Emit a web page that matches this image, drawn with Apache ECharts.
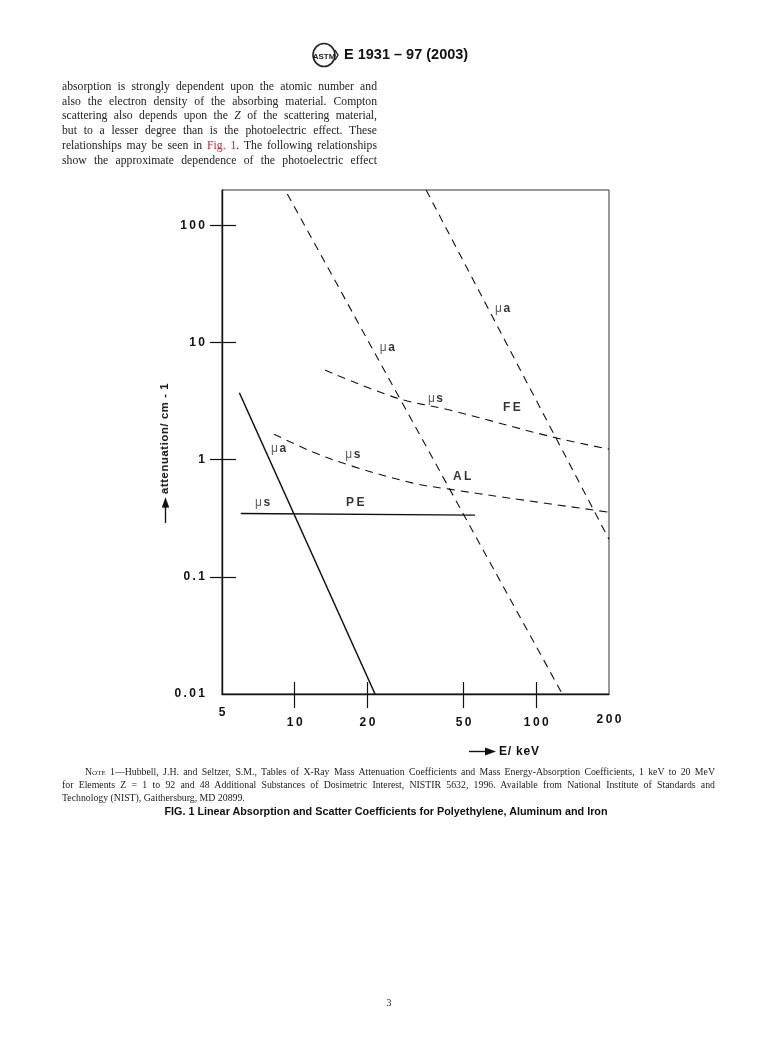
<!DOCTYPE html>
<html>
<head>
<meta charset="utf-8">
<script src="https://cdn.jsdelivr.net/npm/echarts@6/dist/echarts.min.js"></script>
<style>
html,body{margin:0;padding:0;background:#fff;width:778px;height:1041px;overflow:hidden;}
#chart{position:absolute;left:0;top:0;width:778px;height:1041px;}
.t{position:absolute;white-space:nowrap;color:#222;z-index:2;}
.serif{font-family:"Liberation Serif","Times New Roman",serif;}
.sans{font-family:"Liberation Sans",Arial,sans-serif;}
.jl{display:block;text-align:justify;text-align-last:justify;white-space:normal;}
</style>
</head>
<body>
<div id="chart"></div>

<!-- header -->
<div class="t" style="left:311px;top:42px;">
  <svg width="28" height="26" viewBox="0 0 28 26">
    <ellipse cx="13" cy="13" rx="11" ry="11.5" fill="none" stroke="#222" stroke-width="1.6"/>
    <text x="13" y="16.5" font-family="Liberation Sans" font-weight="bold" font-size="8" text-anchor="middle" fill="#222">ASTM</text>
    <path d="M24 8 L27 13 L24 18" fill="none" stroke="#222" stroke-width="1.4"/>
  </svg>
</div>
<div class="t sans" style="left:344px;top:46px;font-size:14.5px;font-weight:bold;color:#111;">E 1931 – 97 (2003)</div>

<!-- paragraph -->
<div class="t serif" style="left:62px;top:80px;width:315px;font-size:11.7px;line-height:14.7px;white-space:normal;">
  <span class="jl">absorption is strongly dependent upon the atomic number and</span>
  <span class="jl">also the electron density of the absorbing material. Compton</span>
  <span class="jl">scattering also depends upon the <i>Z</i> of the scattering material,</span>
  <span class="jl">but to a lesser degree than is the photoelectric effect. These</span>
  <span class="jl">relationships may be seen in <span style="color:#d2232a">Fig. 1</span>. The following relationships</span>
  <span class="jl">show the approximate dependence of the photoelectric effect</span>
</div>

<!-- axis names -->
<div class="t sans" style="left:164px;top:453px;transform:translate(-50%,-50%) rotate(-90deg);font-size:11.3px;font-weight:bold;letter-spacing:0.6px;color:#111;">
  <svg width="26" height="9" viewBox="0 0 27 9" style="vertical-align:middle;margin-right:3px;"><line x1="0" y1="4.5" x2="18" y2="4.5" stroke="#111" stroke-width="1.4"/><path d="M16 0.5 L27 4.5 L16 8.5 Z" fill="#111"/></svg>attenuation/ cm - 1
</div>
<div class="t sans" style="left:469px;top:744px;font-size:12px;font-weight:bold;letter-spacing:0.8px;color:#111;">
  <svg width="27" height="9" viewBox="0 0 27 9" style="vertical-align:middle;margin-right:3px;"><line x1="0" y1="4.5" x2="18" y2="4.5" stroke="#111" stroke-width="1.4"/><path d="M16 0.5 L27 4.5 L16 8.5 Z" fill="#111"/></svg>E/ keV
</div>

<!-- note and caption -->
<div class="t serif" style="left:85px;top:765px;width:630px;font-size:9.8px;line-height:13px;white-space:normal;">
  <span class="jl"><span style="font-variant:small-caps">Note</span> 1—Hubbell, J.H. and Seltzer, S.M., Tables of X-Ray Mass Attenuation Coefficients and Mass Energy-Absorption Coefficients, 1 keV to 20 MeV</span>
</div>
<div class="t serif" style="left:62px;top:778px;width:653px;font-size:9.8px;line-height:13px;white-space:normal;">
  <span class="jl">for Elements Z = 1 to 92 and 48 Additional Substances of Dosimetric Interest, NISTIR 5632, 1996. Available from National Institute of Standards and</span>
</div>
<div class="t serif" style="left:62px;top:791px;font-size:9.8px;line-height:13px;">Technology (NIST), Gaithersburg, MD 20899.</div>
<div class="t sans" style="left:386px;top:805px;transform:translateX(-50%);font-size:10.8px;font-weight:bold;color:#111;">FIG. 1 Linear Absorption and Scatter Coefficients for Polyethylene, Aluminum and Iron</div>

<div class="t serif" style="left:389px;top:997px;transform:translateX(-50%);font-size:10px;">3</div>

<script>
// ---- tick values ----
const xTickValues = [5, 10, 20, 50, 100, 200];
const xTickMarks = [10, 20, 50, 100];
const yTickValues = [0.01, 0.1, 1, 10, 100];
const yTickMarks = [0.1, 1, 10, 100];

// ---- data: photon energy E (keV) and attenuation (cm^-1) ----
// Polyethylene (PE)
const peAbsE = [5.90, 21.5];
const peAbsMu = [3.72, 0.01];
const peScatE = [5.98, 55.8];
const peScatMu = [0.347, 0.336];
// Aluminium (AL)
const alAbsE = [9.32, 128.2];
const alAbsMu = [185, 0.01];
const alScatE = [8.21, 11.9, 17.3, 30.9, 43.5, 77.9, 200];
const alScatMu = [1.65, 1.16, 0.88, 0.63, 0.56, 0.469, 0.356];
// Iron (FE)
const feAbsE = [35.0, 200];
const feAbsMu = [200, 0.209];
const feScatE = [13.35, 26.5, 43.9, 117.3, 200];
const feScatMu = [5.81, 3.35, 2.65, 1.556, 1.229];

// ---- annotations ----
const labelText = ['μa', 'μa', 'μs', 'FE', 'μs', 'μa', 'AL', 'μs', 'PE'];
const labelE = [67.5, 22.5, 35.6, 72.8, 16.2, 7.98, 45.2, 6.85, 16.3];
const labelMu = [19.3, 8.95, 3.29, 2.75, 1.11, 1.25, 0.722, 0.425, 0.425];

const zip = (xs, ys) => xs.map((x, i) => [x, ys[i]]);
const INK = '#111';
const FONT = '"Liberation Sans", Arial, sans-serif';
const spaced = s => s.split('').join('\u2009');
const nearest = (arr, v) => arr.reduce((b, t) => Math.abs(Math.log10(t) - Math.log10(v)) < Math.abs(Math.log10(b) - Math.log10(v)) ? t : b, arr[0]);

const chart = echarts.init(document.getElementById('chart'));

const lineSeries = (data, dashed, width, smooth) => ({
  type: 'line', data, showSymbol: false, symbol: 'none', smooth: smooth || false,
  silent: true, clip: true,
  lineStyle: { color: INK, width: width, type: dashed ? [8, 6] : 'solid' }
});

const axisFontStyle = { fontFamily: FONT, fontWeight: 'bold', fontSize: 12, color: INK };

chart.setOption({
  animation: false,
  backgroundColor: 'transparent',
  grid: { left: 222, right: 169, top: 190, bottom: 347, show: true, borderColor: '#333', borderWidth: 1, backgroundColor: 'transparent' },
  xAxis: [
    {
      type: 'log', logBase: 10, min: 5, max: 200, position: 'bottom',
      axisLine: { show: true, onZero: false, lineStyle: { color: INK, width: 1.4 } },
      axisTick: { show: true, inside: true, length: 12, customValues: xTickMarks, lineStyle: { color: INK, width: 1.2 } },
      minorTick: { show: false }, splitLine: { show: false },
      axisLabel: {
        show: true, customValues: xTickValues, margin: 35, verticalAlign: 'bottom',
        formatter: v => {
          const t = nearest(xTickValues, v);
          const s = spaced(String(t));
          if (t === 5) return '{up|' + s + '}';
          if (t === 200) return '{up3|' + s + '}';
          return '{n|' + s + '}';
        },
        rich: {
          n: Object.assign({}, axisFontStyle),
          up: Object.assign({ padding: [0, 0, 10, 0] }, axisFontStyle),
          up3: Object.assign({ padding: [0, 0, 3, 0] }, axisFontStyle)
        },
        ...axisFontStyle
      }
    },
    {
      type: 'log', logBase: 10, min: 5, max: 200, position: 'bottom',
      axisLine: { show: false, onZero: false },
      axisTick: { show: true, inside: false, length: 14, customValues: xTickMarks, lineStyle: { color: INK, width: 1.2 } },
      minorTick: { show: false }, splitLine: { show: false }, axisLabel: { show: false }
    }
  ],
  yAxis: [
    {
      type: 'log', logBase: 10, min: 0.01, max: 200, position: 'left',
      axisLine: { show: true, onZero: false, lineStyle: { color: INK, width: 1.4 } },
      axisTick: { show: true, inside: true, length: 14, customValues: yTickMarks, lineStyle: { color: INK, width: 1.2 } },
      minorTick: { show: false }, splitLine: { show: false },
      axisLabel: {
        show: true, customValues: yTickValues, margin: 17,
        formatter: v => spaced(String(nearest(yTickValues, v))),
        ...axisFontStyle
      }
    },
    {
      type: 'log', logBase: 10, min: 0.01, max: 200, position: 'left',
      axisLine: { show: false, onZero: false },
      axisTick: { show: true, inside: false, length: 12, customValues: yTickMarks, lineStyle: { color: INK, width: 1.2 } },
      minorTick: { show: false }, splitLine: { show: false }, axisLabel: { show: false }
    }
  ],
  series: [
    lineSeries(zip(peAbsE, peAbsMu), false, 1.5),
    lineSeries(zip(peScatE, peScatMu), false, 1.3),
    lineSeries(zip(alAbsE, alAbsMu), true, 1.1),
    lineSeries(zip(alScatE, alScatMu), true, 1.1, 0.35),
    lineSeries(zip(feAbsE, feAbsMu), true, 1.1),
    lineSeries(zip(feScatE, feScatMu), true, 1.1, 0.35),
    {
      type: 'scatter', silent: true, symbolSize: 0,
      data: labelE.map((e, i) => ({ value: [e, labelMu[i]], name: labelText[i] })),
      label: {
        show: true, position: 'right', distance: 0,
        formatter: p => {
          const s = p.name;
          if (s.charAt(0) === 'μ') return '{m|μ}{b|' + s.slice(1) + '}';
          return '{b|' + spaced(s) + '}';
        },
        rich: {
          m: { fontFamily: FONT, fontSize: 12, fontWeight: 'normal', color: '#333', padding: [0, 1.5, 0, 0] },
          b: { fontFamily: FONT, fontSize: 12, fontWeight: 'bold', color: '#000' }
        }
      }
    }
  ]
});
</script>
</body>
</html>
